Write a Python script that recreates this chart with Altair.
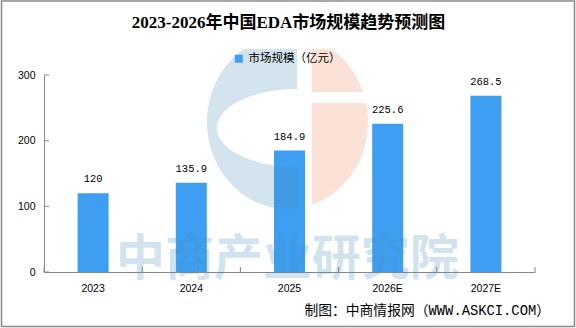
import altair as alt
import pandas as pd

# ---- data -------------------------------------------------------------
years = ["2023", "2024", "2025", "2026E", "2027E"]
market_size = [120, 135.9, 184.9, 225.6, 268.5]
series_name = "市场规模（亿元）"
y_ticks = [0, 100, 200, 300]

title_text = "2023-2026年中国EDA市场规模趋势预测图"
source_text = "制图：中商情报网（WWW.ASKCI.COM）"
watermark_text = "中商产业研究院"

# ---- styling ----------------------------------------------------------
W, H = 491, 197
BAR_COLOR = "#3d9ef2"
AXIS_GREY = "#868686"
LABEL_FONT = "Liberation Sans"
CJK_FONT = "Noto Sans CJK SC"

# logo outline as custom symbol paths (unit square, scaled by symbol size)
LOGO_BLUE = ("M0.109,-0.839 L-0.503,-0.839 A0.925,1 0 0,0 0.109,0.993 "
             "L0.109,0.517 A0.92,0.448 0 0,1 0.109,-0.379 Z")
LOGO_ORANGE = ("M0.278,-0.839 L0.503,-0.839 A0.925,1 0 0,1 0.868,-0.345 "
               "L0.278,-0.345 Z M0.278,-0.218 L0.903,-0.218 "
               "A0.925,1 0 0,1 0.278,0.954 Z")
LOGO_SIZE = 174 ** 2

df = pd.DataFrame({
    "year": years,
    "value": market_size,
    "series": [series_name] * len(years),
})
tick_df = pd.DataFrame({"tick": y_ticks})
single = pd.DataFrame({"k": [0]})
title_df = pd.DataFrame({"label": [title_text]})
watermark_df = pd.DataFrame({"label": [watermark_text]})
source_df = pd.DataFrame({"label": [source_text]})

x_scale = alt.Scale(domain=years, paddingInner=0, paddingOuter=0)
y_scale = alt.Scale(domain=[0, 300], nice=False)

x_enc = alt.X(
    "year:N", scale=x_scale, sort=years,
    axis=alt.Axis(
        title=None, labelAngle=0, ticks=False, tickSize=0, labelPadding=11,
        domainColor=AXIS_GREY, domainWidth=1,
        labelFont=LABEL_FONT, labelFontSize=10.5, labelColor="#000000",
    ),
)
y_enc = alt.Y(
    "value:Q", scale=y_scale,
    axis=alt.Axis(
        title=None, values=y_ticks, grid=False, ticks=False, tickSize=0,
        labelPadding=9, domainColor=AXIS_GREY, domainWidth=1,
        labelFont=LABEL_FONT, labelFontSize=10.5, labelColor="#000000",
    ),
)

bars = alt.Chart(df).mark_bar(size=31).encode(
    x=x_enc,
    y=y_enc,
    color=alt.Color(
        "series:N",
        scale=alt.Scale(domain=[series_name], range=[BAR_COLOR]),
        legend=alt.Legend(
            title=None, orient="none", legendX=189, legendY=-22,
            symbolType="square", symbolSize=64, symbolStrokeWidth=0,
            labelFont=CJK_FONT, labelFontSize=11.5, labelColor="#000000",
            labelOffset=4, padding=0,
        ),
    ),
)

# inward tick marks on the category axis (band boundaries)
x_ticks = alt.Chart(df).mark_rule(color=AXIS_GREY, strokeWidth=1).encode(
    x=alt.X("year:N", bandPosition=0, scale=x_scale, sort=years),
    y=alt.value(H - 5),
    y2=alt.value(H),
)
x_end_tick = alt.Chart(single).mark_rule(color=AXIS_GREY, strokeWidth=1).encode(
    x=alt.value(W), y=alt.value(H - 5), y2=alt.value(H)
)

# inward tick marks on the value axis
y_tick_marks = alt.Chart(tick_df).mark_rule(color=AXIS_GREY, strokeWidth=1).encode(
    y=alt.Y("tick:Q", scale=y_scale),
    x=alt.value(0),
    x2=alt.value(5),
)

logo_blue = alt.Chart(single).mark_point(
    shape=LOGO_BLUE, size=LOGO_SIZE, filled=True, color="#4f93bb",
    opacity=0.25, strokeWidth=0,
).encode(x=alt.value(243.5), y=alt.value(47))

logo_orange = alt.Chart(single).mark_point(
    shape=LOGO_ORANGE, size=LOGO_SIZE, filled=True, color="#eb8b5b",
    opacity=0.25, strokeWidth=0,
).encode(x=alt.value(243.5), y=alt.value(47))

watermark = alt.Chart(watermark_df).mark_text(
    font=CJK_FONT, fontSize=49, fontWeight="bold", color="#4b93bf",
    opacity=0.25, align="center", baseline="middle",
).encode(x=alt.value(243.5), y=alt.value(185), text="label:N")

value_labels = alt.Chart(df).mark_text(
    font="Liberation Mono", fontSize=10.5, color="#000000",
    baseline="middle", dy=-14,
).encode(
    x=alt.X("year:N", scale=x_scale, sort=years),
    y=alt.Y("value:Q", scale=y_scale),
    text=alt.Text("value:Q"),
)

# chart heading, centred over the plot
heading = alt.Chart(title_df).mark_text(
    font="Liberation Serif, " + CJK_FONT, fontSize=17, fontWeight="bold",
    color="#000000", align="center", baseline="middle",
).encode(x=alt.value(244.5), y=alt.value(-52), text="label:N")

source = alt.Chart(source_df).mark_text(
    font="Liberation Mono, " + CJK_FONT, fontSize=13.8, color="#000000",
    align="right", baseline="middle",
).encode(x=alt.value(506), y=alt.value(235.5), text="label:N")

frame = alt.Chart(single).mark_rect(
    filled=False, stroke="#8a8a8a", strokeWidth=1.5,
).encode(
    x=alt.value(-42.5), x2=alt.value(530.5),
    y=alt.value(-74), y2=alt.value(251.5),
)

chart = alt.layer(
    bars, x_ticks, x_end_tick, y_tick_marks,
    logo_blue, logo_orange, watermark,
    value_labels, heading, source, frame,
).properties(
    width=W,
    height=H,
    autosize=alt.AutoSizeParams(type="none"),
    padding={"left": 44, "top": 75, "right": 41, "bottom": 56},
    background="#ffffff",
).configure_view(stroke=None)

chart.save("out.html", embed_options={"renderer": "svg", "actions": False})
